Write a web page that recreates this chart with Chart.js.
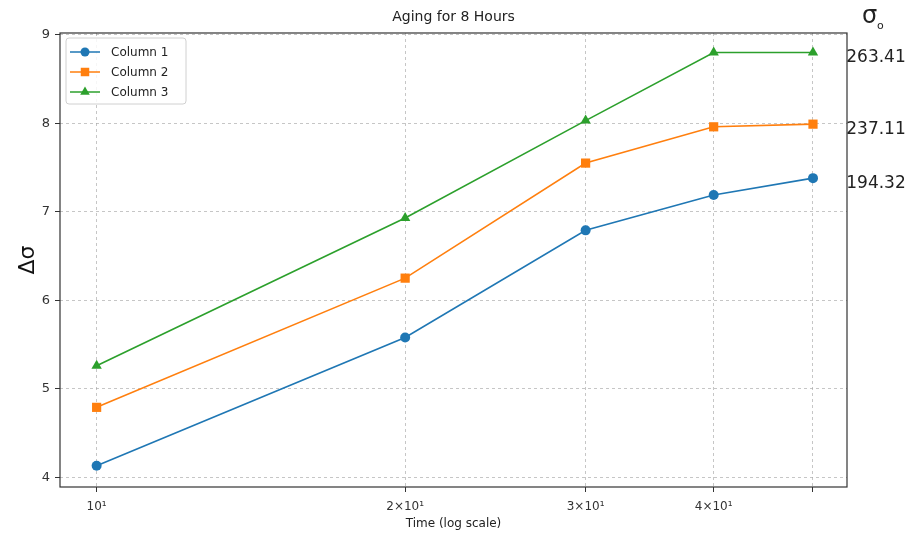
<!DOCTYPE html>
<html>
<head>
<meta charset="utf-8">
<script src="https://cdn.jsdelivr.net/npm/chart.js@4.4.0/dist/chart.umd.min.js"></script>
<style>
  html, body { margin: 0; padding: 0; background: #fff; }
  #wrap { width: 910px; height: 537px; }
</style>
</head>
<body>
<div id="wrap"><canvas id="agingChart" width="910" height="537"></canvas></div>
<script>
// data
const times = [10, 20, 30, 40, 50];
const column1 = [4.13, 5.58, 6.79, 7.19, 7.38];
const column2 = [4.79, 6.25, 7.55, 7.96, 7.99];
const column3 = [5.26, 6.93, 8.03, 8.80, 8.80];
const seriesNames = ['Column 1', 'Column 2', 'Column 3'];
const sigmaLabels = ['194.32', '237.11', '263.41'];
const xTicks = [10, 20, 30, 40, 50];
const xTickLabels = ['10\u00b9', '2\u00d710\u00b9', '3\u00d710\u00b9', '4\u00d710\u00b9', ''];
const yTicks = [4, 5, 6, 7, 8, 9];

const colors = ['#1f77b4', '#ff7f0e', '#2ca02c'];
const markers = ['circle', 'rect', 'triangle'];
const radii = [5, 6.5, 6];

function toPoints(vals) {
  return vals.map((v, i) => ({ x: times[i], y: v }));
}

const gridStyle = { color: 'rgba(165,165,165,0.8)', lineWidth: 0.8, tickLength: 5, tickColor: '#333', tickWidth: 1 };

function drawMarker(ctx, style, x, y, r, color) {
  ctx.fillStyle = color;
  ctx.beginPath();
  if (style === 'circle') {
    ctx.arc(x, y, r, 0, Math.PI * 2);
  } else if (style === 'rect') {
    const s = r * Math.SQRT1_2;
    ctx.rect(x - s, y - s, 2 * s, 2 * s);
  } else {
    ctx.moveTo(x, y - r);
    ctx.lineTo(x + r * 0.87, y + r * 0.5);
    ctx.lineTo(x - r * 0.87, y + r * 0.5);
    ctx.closePath();
  }
  ctx.fill();
}

const extras = {
  id: 'extras',
  afterDraw(chart) {
    const ctx = chart.ctx;
    const a = chart.chartArea;
    const y = chart.scales.y;
    ctx.save();
    // frame
    ctx.strokeStyle = '#333';
    ctx.lineWidth = 1.2;
    ctx.strokeRect(a.left, a.top, a.right - a.left, a.bottom - a.top);

    // title
    ctx.fillStyle = '#222';
    ctx.font = '14px "DejaVu Sans"';
    ctx.textAlign = 'center';
    ctx.textBaseline = 'middle';
    ctx.fillText('Aging for 8 Hours', (a.left + a.right) / 2, 17);

    // sigma_0 header and values
    ctx.font = '24px "DejaVu Sans"';
    ctx.textAlign = 'left';
    ctx.fillText('\u03c3', 862, 17);
    ctx.font = '11px "DejaVu Sans"';
    ctx.fillText('o', 877, 26);
    ctx.font = '17px "DejaVu Sans"';
    ctx.textAlign = 'center';
    const last = [column1, column2, column3].map(c => c[c.length - 1]);
    last.forEach((v, i) => {
      ctx.fillText(sigmaLabels[i], 876, y.getPixelForValue(v) + 5);
    });

    // legend inside the plot
    const lx = a.left + 6, ly = a.top + 5;
    ctx.fillStyle = 'rgba(255,255,255,0.85)';
    ctx.strokeStyle = '#d0d0d0';
    ctx.lineWidth = 1;
    ctx.beginPath();
    ctx.roundRect(lx, ly, 120, 66, 3);
    ctx.fill();
    ctx.stroke();
    ctx.font = '12px "DejaVu Sans"';
    ctx.textAlign = 'left';
    seriesNames.forEach((name, i) => {
      const ry = ly + 14 + i * 20;
      ctx.strokeStyle = colors[i];
      ctx.lineWidth = 1.5;
      ctx.beginPath();
      ctx.moveTo(lx + 4, ry);
      ctx.lineTo(lx + 34, ry);
      ctx.stroke();
      drawMarker(ctx, markers[i], lx + 19, ry, radii[i] - 0.5, colors[i]);
      ctx.fillStyle = '#222';
      ctx.fillText(name, lx + 45, ry + 1);
    });
    ctx.restore();
  }
};

const datasets = [column1, column2, column3].map((vals, i) => ({
  label: seriesNames[i],
  data: toPoints(vals),
  borderColor: colors[i],
  backgroundColor: colors[i],
  borderWidth: 1.6,
  pointStyle: markers[i],
  pointRadius: radii[i],
  pointBorderWidth: 0,
  tension: 0
}));

const agingChart = new Chart(document.getElementById('agingChart'), {
  type: 'line',
  data: { datasets: datasets },
  options: {
    responsive: false,
    animation: false,
    layout: { padding: { left: 0, right: 63, top: 33, bottom: 0 } },
    plugins: {
      legend: { display: false },
      title: { display: false },
      tooltip: { enabled: false }
    },
    scales: {
      x: {
        type: 'logarithmic',
        min: 9.21,
        max: 53.97,
        afterBuildTicks: (scale) => { scale.ticks = xTicks.map(v => ({ value: v })); },
        afterFit: (scale) => { scale.height = 50; },
        grid: gridStyle,
        border: { display: false, dash: [3, 3] },
        ticks: {
          autoSkip: false,
          maxRotation: 0,
          padding: 8,
          color: '#333',
          font: { family: 'DejaVu Sans', size: 12 },
          callback: (value) => {
            const k = xTicks.indexOf(value);
            return k >= 0 ? xTickLabels[k] : '';
          }
        },
        title: {
          display: true,
          text: 'Time (log scale)',
          color: '#222',
          font: { family: 'DejaVu Sans', size: 12 },
          padding: { top: 6, bottom: 6 }
        }
      },
      y: {
        min: 3.89,
        max: 9.02,
        afterBuildTicks: (scale) => { scale.ticks = yTicks.map(v => ({ value: v })); },
        afterFit: (scale) => { scale.width = 60; },
        grid: gridStyle,
        border: { display: false, dash: [3, 3] },
        ticks: {
          padding: 5,
          color: '#333',
          font: { family: 'DejaVu Sans', size: 13 }
        },
        title: {
          display: true,
          text: '\u0394\u03c3',
          color: '#111',
          font: { family: 'DejaVu Sans', size: 22 },
          padding: { top: 15, bottom: 15 }
        }
      }
    }
  },
  plugins: [extras]
});
</script>
</body>
</html>
